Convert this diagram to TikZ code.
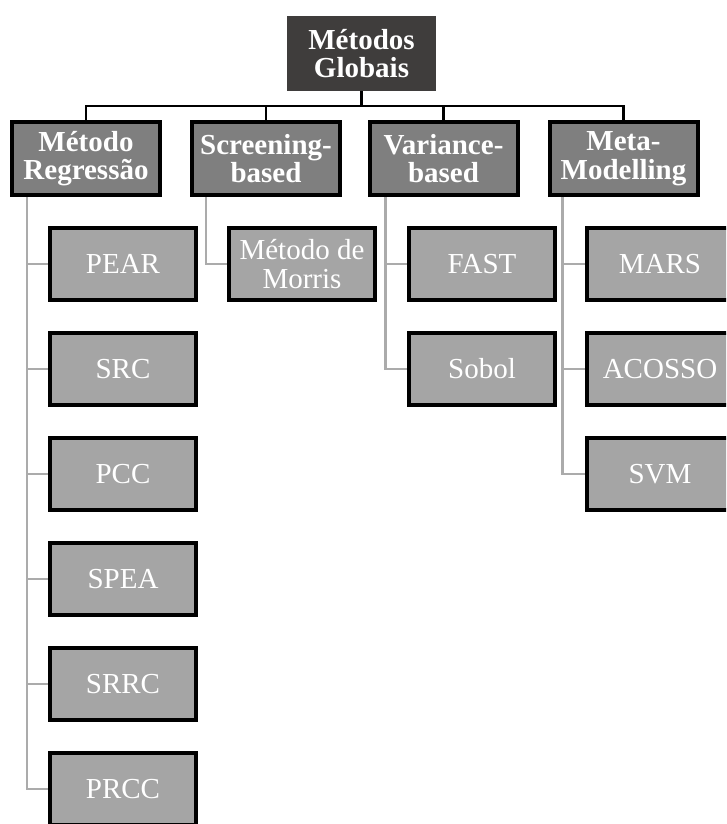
\documentclass[tikz,border=0pt]{standalone}
\usepackage{fontspec}
\setmainfont{Liberation Serif}
\begin{document}
\begin{tikzpicture}[x=1pt,y=-1pt,
  topbox/.style={fill=topfill,text=white,minimum width=149pt,minimum height=75pt,inner sep=0pt,align=center,font=\fontsize{29}{28.5}\selectfont\bfseries},
  catbox/.style={fill=catfill,draw=black,line width=4pt,text=white,minimum width=148pt,minimum height=73pt,inner sep=0pt,align=center,font=\fontsize{29}{28.5}\selectfont\bfseries},
  leafbox/.style={fill=leaffill,draw=black,line width=4pt,text=white,minimum width=146pt,minimum height=72pt,inner sep=0pt,align=center,font=\fontsize{29}{28.5}\selectfont},
  blackline/.style={draw=black,line width=2.4pt},
  grayline/.style={draw=linegray,line width=2.8pt}]
\definecolor{topfill}{HTML}{3F3D3C}
\definecolor{catfill}{HTML}{7F7F7F}
\definecolor{leaffill}{HTML}{A5A5A5}
\definecolor{linegray}{HTML}{ABABAB}
\useasboundingbox (0,0) rectangle (726,824);
\clip (0,0) rectangle (726,824);
% top
\node[topbox] (top) at (361.5,53.5) {Métodos\\Globais};
% categories
\node[catbox] (c1) at (86,158.5) {Método\\Regressão};
\node[catbox] (c2) at (266,158.5) {Screening-\\based};
\node[catbox] (c3) at (443.5,158.5) {Variance-\\based};
\node[catbox] (c4) at (623.5,158.5) {Meta-\\Modelling};
% connectors
\coordinate (bus) at (361.5,106);
\draw[blackline] (top.south) -- (bus);
\draw[blackline] (bus) -| (c1.north);
\draw[blackline] (bus) -| (c2.north);
\draw[blackline] (bus) -| (c3.north);
\draw[blackline] (bus) -| (c4.north);
% leaves column 1
\node[leafbox] (pear) at (123,264) {PEAR};
\node[leafbox] (src) at (123,369) {SRC};
\node[leafbox] (pcc) at (123,474) {PCC};
\node[leafbox] (spea) at (123,579) {SPEA};
\node[leafbox] (srrc) at (123,684) {SRRC};
\node[leafbox] (prcc) at (123,789) {PRCC};
% column 2
\node[leafbox] (morris) at (302,264) {Método de\\Morris};
% column 3
\node[leafbox] (fast) at (482,264) {FAST};
\node[leafbox] (sobol) at (482,369) {Sobol};
% column 4
\node[leafbox] (mars) at (660,264) {MARS};
\node[leafbox] (acosso) at (660,369) {ACOSSO};
\node[leafbox] (svm) at (660,474) {SVM};
% gray connectors
\coordinate (r1) at ([xshift=17pt]c1.south west);
\coordinate (r2) at ([xshift=16pt]c2.south west);
\coordinate (r3) at ([xshift=18pt]c3.south west);
\coordinate (r4) at ([xshift=15pt]c4.south west);
\foreach \n in {pear,src,pcc,spea,srrc,prcc}{\draw[grayline] (r1) |- (\n.west);}
\draw[grayline] (r2) |- (morris.west);
\foreach \n in {fast,sobol}{\draw[grayline] (r3) |- (\n.west);}
\foreach \n in {mars,acosso,svm}{\draw[grayline] (r4) |- (\n.west);}
\end{tikzpicture}
\end{document}
